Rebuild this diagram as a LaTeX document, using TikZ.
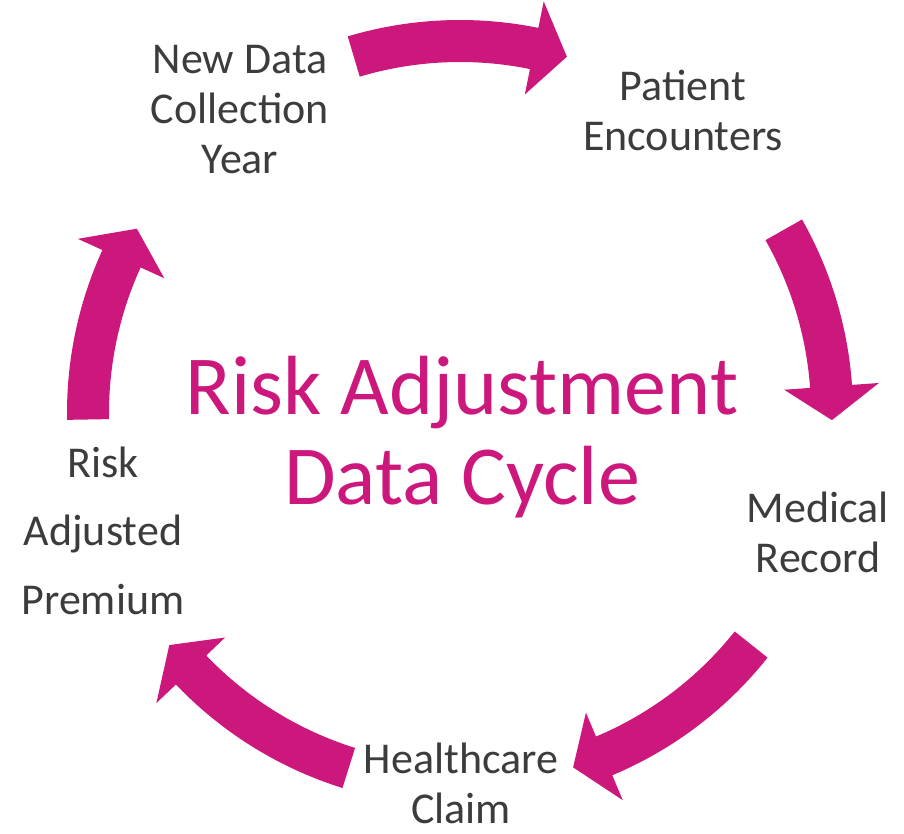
\documentclass[tikz,border=0pt]{standalone}
\usepackage{fontspec}
\setmainfont{Carlito}
\definecolor{mag}{RGB}{204,24,124}
\definecolor{txt}{RGB}{60,60,60}
% block arrow along the circle: tail angle, head-base angle, tip angle
\newcommand\cycarrow[3]{%
  \fill[blockarrow] (#1:351) arc[start angle=#1, end angle=#2, radius=351]
    -- (#2:325) -- (#3:372) -- (#2:420) -- (#2:393)
    arc[start angle=#2, end angle=#1, radius=393] -- cycle;}
\begin{document}
\begin{tikzpicture}[x=1pt,y=1pt,
  blockarrow/.style={fill=mag},
  lbl/.style={font=\fontsize{44}{50}\selectfont, text=txt, align=center, inner sep=0pt, anchor=north},
  ttl/.style={font=\fontsize{84}{90}\selectfont, text=mag, align=center, inner sep=0pt, anchor=north}]
\useasboundingbox (0,0) rectangle (904,833);
\begin{scope}[shift={(460,420)}]
  \cycarrow{106.6}{78.5}{73.3}
  \cycarrow{29.5}{4.1}{-1.1}
  \cycarrow{-38.5}{-67.2}{-72.3}
  \cycarrow{-107.4}{-136.3}{-141.4}
  \cycarrow{181}{155.5}{150.3}
\end{scope}
\node[lbl] (newdata) at (240,796) {\rule{0pt}{36pt}New Data\\Collection\\Year};
\node[lbl] (patient) at (683,769) {\rule{0pt}{36pt}Patient\\Encounters};
\node[lbl] (medical) at (818,347) {\rule{0pt}{36pt}Medical\\Record};
\node[lbl] (claim) at (461,96) {\rule{0pt}{36pt}Healthcare\\Claim};
\node[lbl, font=\fontsize{44}{68.5}\selectfont] (premium) at (103,392) {\rule{0pt}{36pt}Risk\\Adjusted\\Premium};
\node[ttl] (title) at (462,489) {\rule{0pt}{70pt}Risk Adjustment\\Data Cycle};
\end{tikzpicture}
\end{document}
